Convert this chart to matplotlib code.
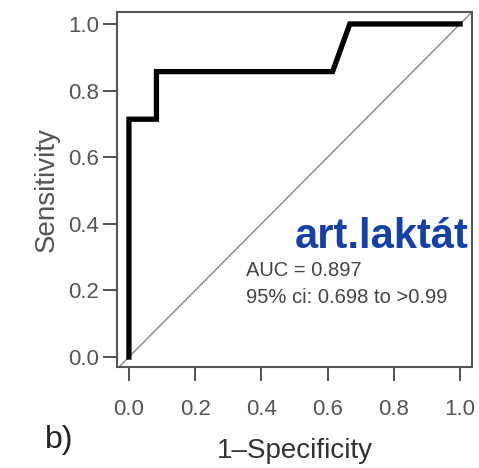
import matplotlib
matplotlib.use("Agg")
import matplotlib.pyplot as plt

plt.rcParams['font.family'] = ['Liberation Sans', 'DejaVu Sans']

# ROC curve for arterial lactate (1-specificity vs sensitivity)
fpr = [0.0, 0.0, 0.083, 0.083, 0.615, 0.667, 1.0]
tpr = [0.0, 0.714, 0.714, 0.857, 0.857, 1.0, 1.0]
ticks = [0.0, 0.2, 0.4, 0.6, 0.8, 1.0]
tick_labels = ['0.0', '0.2', '0.4', '0.6', '0.8', '1.0']
marker_name = 'art.laktát'
auc_text = 'AUC = 0.897'
ci_text = '95% ci: 0.698 to >0.99'

TEXT_GRAY = '#555555'

fig = plt.figure(figsize=(4.79, 4.68), dpi=100)
ax = fig.add_axes([0.2443, 0.2158, 0.7411, 0.7586])

ax.axline((0, 0), (1, 1), color='#888888', linewidth=1.0, zorder=1)
ax.plot(fpr, tpr, color='black', linewidth=3.8, solid_joinstyle='miter', zorder=2)

ax.set_xlim(-0.036, 1.036)
ax.set_ylim(-0.03, 1.036)

ax.set_xticks(ticks)
ax.set_xticklabels(tick_labels)
ax.set_yticks(ticks)
ax.set_yticklabels(tick_labels)
ax.tick_params(axis='both', colors='#444444', labelcolor=TEXT_GRAY,
               length=10, width=1.3, labelsize=16, direction='out')
ax.tick_params(axis='x', pad=13)
ax.tick_params(axis='y', pad=3)
for sp in ax.spines.values():
    sp.set_color('#555555')
    sp.set_linewidth(1.5)

ax.set_xlabel('1\u2013Specificity', fontsize=20, color='#333333', labelpad=13)
ax.set_ylabel('Sensitivity', fontsize=20, color=TEXT_GRAY, labelpad=6)

ax.text(1.025, 0.36, marker_name, ha='right', va='center', fontsize=30,
        fontweight='bold', color='#1540a5')
ax.text(0.355, 0.26, auc_text, ha='left', va='center', fontsize=14.5,
        color='#444444')
ax.text(0.355, 0.18, ci_text, ha='left', va='center', fontsize=14.5,
        color='#444444')

fig.text(45 / 479, 1 - 440 / 468, 'b)', ha='left', va='center', fontsize=23,
         color='#222222')

fig.savefig('out.png', dpi=100)
